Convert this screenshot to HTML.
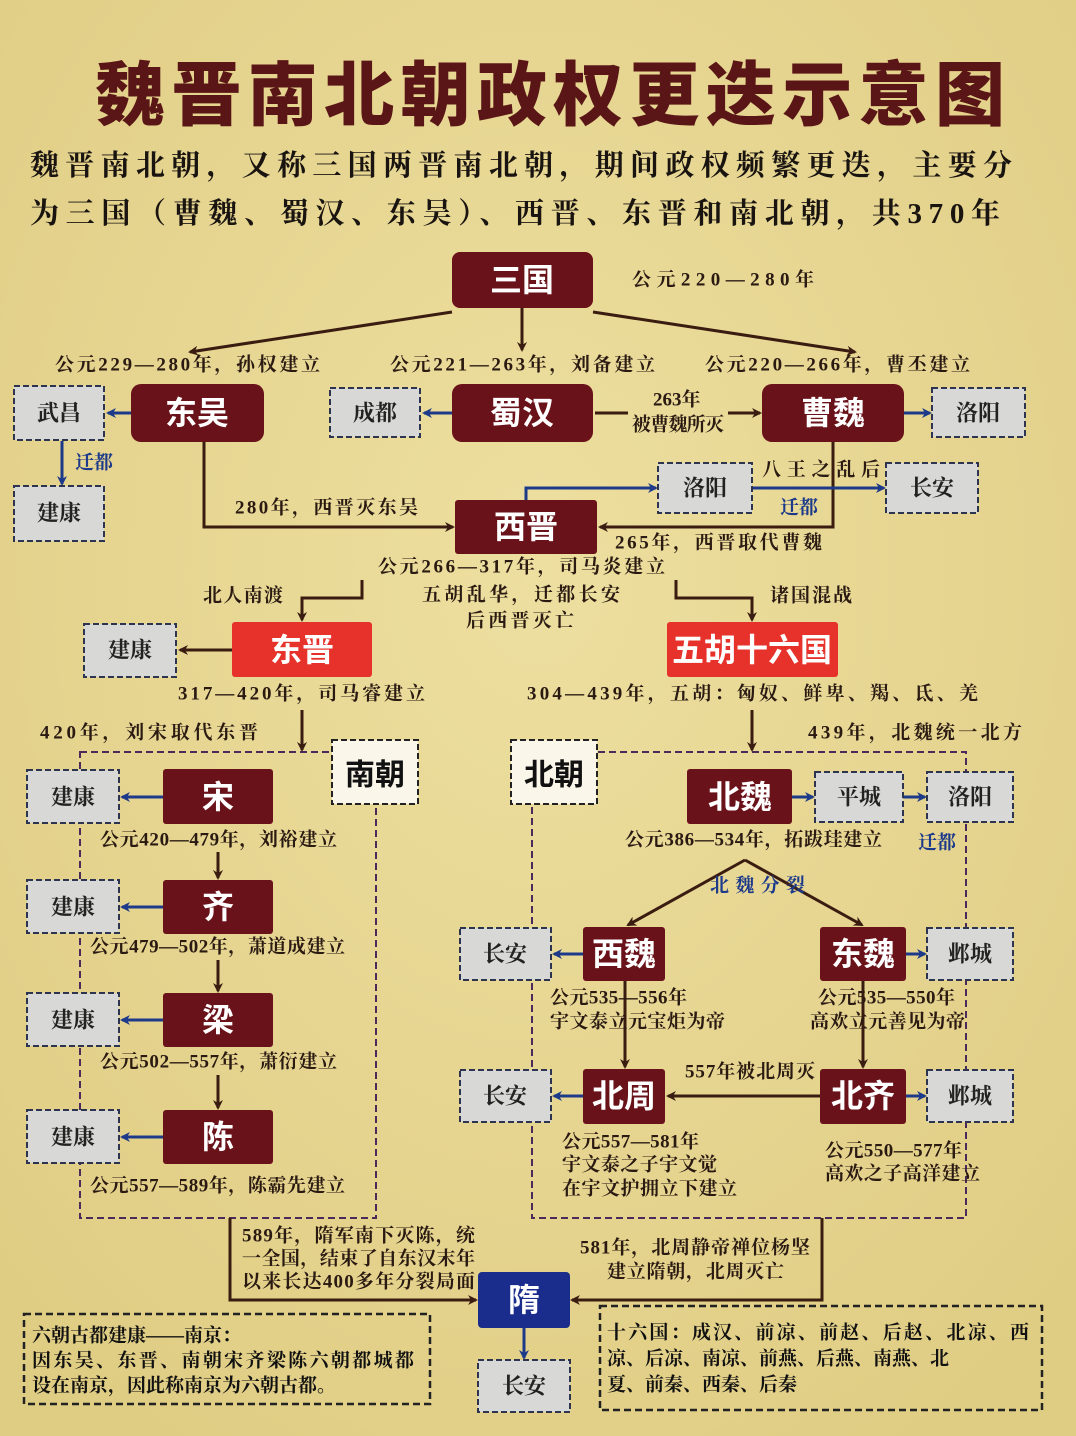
<!DOCTYPE html>
<html><head><meta charset="utf-8"><style>
html,body{margin:0;padding:0;background:#e7d690;}
svg{display:block}
text{font-family:"Liberation Serif","Noto Serif CJK SC",serif;font-weight:bold;}
.w{fill:#fff;font-family:"Liberation Sans","Noto Sans CJK SC",sans-serif;font-size:32px;text-anchor:middle;dominant-baseline:central}
.g{fill:#222;font-size:22px;text-anchor:middle;dominant-baseline:central}
.l{fill:#2a1a12;font-size:19px;dominant-baseline:central}
.b{fill:#1d3a8a;font-size:19px;dominant-baseline:central}
</style></head><body>
<svg width="1076" height="1436" viewBox="0 0 1076 1436">
<defs>
<radialGradient id="bg" cx="50%" cy="40%" r="70%"><stop offset="0" stop-color="#eddfa0"/><stop offset="1" stop-color="#e0cd84"/></radialGradient>
<marker id="ad" markerWidth="10" markerHeight="10" refX="8" refY="5" orient="auto" markerUnits="userSpaceOnUse"><path d="M0,0 L10,5 L0,10 L3,5z" fill="#3a1c10"/></marker>
<marker id="ab" markerWidth="10" markerHeight="10" refX="8" refY="5" orient="auto" markerUnits="userSpaceOnUse"><path d="M0,0 L10,5 L0,10 L3,5z" fill="#1d3a8a"/></marker>
</defs>
<rect width="1076" height="1436" fill="url(#bg)"/>
<text x="95" y="90" dominant-baseline="central" font-size="70" fill="#5a1616" textLength="910" style="font-family:'Noto Sans CJK SC',sans-serif;font-weight:900">魏晋南北朝政权更迭示意图</text>
<text x="30" y="166" font-size="29" fill="#1a1410" dominant-baseline="central" textLength="982">魏晋南北朝，又称三国两晋南北朝，期间政权频繁更迭，主要分</text>
<text x="30" y="214" font-size="29" fill="#1a1410" dominant-baseline="central" textLength="970">为三国（曹魏、蜀汉、东吴）、西晋、东晋和南北朝，共370年</text>

<rect x="80" y="752" width="296" height="466" fill="none" stroke="#4a2a5a" stroke-width="2" stroke-dasharray="7,4"/>
<rect x="532" y="752" width="434" height="466" fill="none" stroke="#4a2a5a" stroke-width="2" stroke-dasharray="7,4"/>

<g stroke="#3a1c10" stroke-width="3" fill="none">
<line x1="452" y1="312" x2="190" y2="352" marker-end="url(#ad)"/>
<line x1="593" y1="312" x2="855" y2="352" marker-end="url(#ad)"/>
<line x1="522" y1="308" x2="522" y2="350" marker-end="url(#ad)"/>
<polyline points="204,442 204,527 453,527" marker-end="url(#ad)"/>
<polyline points="833,442 833,527 600,527" marker-end="url(#ad)"/>
<line x1="595" y1="413" x2="628" y2="413"/>
<line x1="728" y1="413" x2="760" y2="413" marker-end="url(#ad)"/>
<polyline points="362,580 362,598 302,598 302,620" marker-end="url(#ad)"/>
<polyline points="676,580 676,598 752,598 752,620" marker-end="url(#ad)"/>
<line x1="232" y1="650" x2="180" y2="650" marker-end="url(#ad)"/>
<line x1="302" y1="710" x2="302" y2="750" marker-end="url(#ad)"/>
<line x1="752" y1="710" x2="752" y2="750" marker-end="url(#ad)"/>
<line x1="218" y1="852" x2="218" y2="878" marker-end="url(#ad)"/>
<line x1="218" y1="960" x2="218" y2="991" marker-end="url(#ad)"/>
<line x1="218" y1="1075" x2="218" y2="1108" marker-end="url(#ad)"/>
<polyline points="745,860 628,925" marker-end="url(#ad)"/>
<polyline points="745,860 862,925" marker-end="url(#ad)"/>
<line x1="625" y1="981" x2="625" y2="1067" marker-end="url(#ad)"/>
<line x1="863" y1="981" x2="863" y2="1067" marker-end="url(#ad)"/>
<line x1="820" y1="1096" x2="668" y2="1096" marker-end="url(#ad)"/>
<polyline points="230,1218 230,1300 476,1300" marker-end="url(#ad)"/>
<polyline points="822,1218 822,1300 572,1300" marker-end="url(#ad)"/>
</g>
<g stroke="#1d3a8a" stroke-width="3" fill="none">
<line x1="131" y1="413" x2="108" y2="413" marker-end="url(#ab)"/>
<line x1="62" y1="441" x2="62" y2="484" marker-end="url(#ab)"/>
<line x1="452" y1="413" x2="424" y2="413" marker-end="url(#ab)"/>
<line x1="904" y1="413" x2="930" y2="413" marker-end="url(#ab)"/>
<polyline points="526,500 526,488 656,488" marker-end="url(#ab)"/>
<line x1="752" y1="488" x2="884" y2="488" marker-end="url(#ab)"/>
<line x1="163" y1="797" x2="122" y2="797" marker-end="url(#ab)"/>
<line x1="163" y1="907" x2="122" y2="907" marker-end="url(#ab)"/>
<line x1="163" y1="1020" x2="122" y2="1020" marker-end="url(#ab)"/>
<line x1="163" y1="1137" x2="122" y2="1137" marker-end="url(#ab)"/>
<line x1="792" y1="797" x2="813" y2="797" marker-end="url(#ab)"/>
<line x1="903" y1="797" x2="925" y2="797" marker-end="url(#ab)"/>
<line x1="583" y1="954" x2="554" y2="954" marker-end="url(#ab)"/>
<line x1="906" y1="954" x2="925" y2="954" marker-end="url(#ab)"/>
<line x1="583" y1="1096" x2="554" y2="1096" marker-end="url(#ab)"/>
<line x1="906" y1="1096" x2="925" y2="1096" marker-end="url(#ab)"/>
<line x1="524" y1="1328" x2="524" y2="1358" marker-end="url(#ab)"/>
</g>

<g fill="#6a1219">
<rect x="452" y="252" width="141" height="56" rx="8"/>
<rect x="131" y="384" width="133" height="58" rx="10"/>
<rect x="452" y="384" width="141" height="58" rx="10"/>
<rect x="762" y="384" width="142" height="58" rx="10"/>
<rect x="455" y="500" width="142" height="54" rx="3"/>
<rect x="163" y="769" width="110" height="55" rx="3"/>
<rect x="163" y="880" width="110" height="54" rx="3"/>
<rect x="163" y="993" width="110" height="54" rx="3"/>
<rect x="163" y="1110" width="110" height="54" rx="3"/>
<rect x="687" y="769" width="105" height="55" rx="3"/>
<rect x="583" y="927" width="82" height="54" rx="3"/>
<rect x="820" y="927" width="86" height="54" rx="3"/>
<rect x="583" y="1069" width="82" height="55" rx="3"/>
<rect x="820" y="1069" width="86" height="55" rx="3"/>
</g>
<rect x="232" y="622" width="140" height="55" rx="3" fill="#e6322a"/>
<rect x="667" y="622" width="171" height="55" rx="3" fill="#e6322a"/>
<rect x="478" y="1272" width="92" height="56" rx="4" fill="#1a2c8c"/>

<text class="w" x="522" y="280">三国</text>
<text class="w" x="197" y="413">东吴</text>
<text class="w" x="522" y="413">蜀汉</text>
<text class="w" x="833" y="413">曹魏</text>
<text class="w" x="526" y="527">西晋</text>
<text class="w" x="302" y="650">东晋</text>
<text class="w" x="752" y="650">五胡十六国</text>
<text class="w" x="218" y="797">宋</text>
<text class="w" x="218" y="907">齐</text>
<text class="w" x="218" y="1020">梁</text>
<text class="w" x="218" y="1137">陈</text>
<text class="w" x="740" y="797">北魏</text>
<text class="w" x="624" y="954">西魏</text>
<text class="w" x="863" y="954">东魏</text>
<text class="w" x="624" y="1096">北周</text>
<text class="w" x="863" y="1096">北齐</text>
<text class="w" x="524" y="1300">隋</text>

<g fill="#d8d8d6" stroke="#2c3450" stroke-width="2" stroke-dasharray="6,3">
<rect x="14" y="386" width="90" height="54"/>
<rect x="14" y="486" width="90" height="55"/>
<rect x="330" y="388" width="90" height="49"/>
<rect x="932" y="388" width="93" height="49"/>
<rect x="658" y="463" width="94" height="50"/>
<rect x="886" y="463" width="92" height="50"/>
<rect x="84" y="624" width="92" height="53"/>
<rect x="27" y="770" width="92" height="53"/>
<rect x="27" y="880" width="92" height="53"/>
<rect x="27" y="993" width="92" height="53"/>
<rect x="27" y="1110" width="92" height="53"/>
<rect x="815" y="772" width="88" height="50"/>
<rect x="927" y="772" width="86" height="50"/>
<rect x="460" y="928" width="91" height="52"/>
<rect x="927" y="928" width="86" height="52"/>
<rect x="460" y="1070" width="91" height="52"/>
<rect x="927" y="1070" width="86" height="52"/>
<rect x="478" y="1360" width="92" height="52"/>
</g>
<g fill="#fbf6ea" stroke="#222" stroke-width="2" stroke-dasharray="6,3">
<rect x="332" y="740" width="86" height="64"/>
<rect x="511" y="740" width="86" height="64"/>
</g>
<text x="375" y="772" font-size="30" fill="#111" text-anchor="middle" dominant-baseline="central" style="font-family:'Noto Sans CJK SC',sans-serif">南朝</text>
<text x="554" y="772" font-size="30" fill="#111" text-anchor="middle" dominant-baseline="central" style="font-family:'Noto Sans CJK SC',sans-serif">北朝</text>

<text class="g" x="59" y="413">武昌</text>
<text class="g" x="59" y="513">建康</text>
<text class="g" x="375" y="413">成都</text>
<text class="g" x="978" y="413">洛阳</text>
<text class="g" x="705" y="488">洛阳</text>
<text class="g" x="932" y="488">长安</text>
<text class="g" x="130" y="650">建康</text>
<text class="g" x="73" y="797">建康</text>
<text class="g" x="73" y="907">建康</text>
<text class="g" x="73" y="1020">建康</text>
<text class="g" x="73" y="1137">建康</text>
<text class="g" x="859" y="797">平城</text>
<text class="g" x="970" y="797">洛阳</text>
<text class="g" x="505" y="954">长安</text>
<text class="g" x="970" y="954">邺城</text>
<text class="g" x="505" y="1096">长安</text>
<text class="g" x="970" y="1096">邺城</text>
<text class="g" x="524" y="1386">长安</text>

<text class="l" x="632" y="280" font-size="22" textLength="182">公元220—280年</text>
<text class="l" x="55" y="365" textLength="265">公元229—280年，孙权建立</text>
<text class="l" x="390" y="365" textLength="265">公元221—263年，刘备建立</text>
<text class="l" x="705" y="365" textLength="265">公元220—266年，曹丕建立</text>
<text class="l" x="653" y="400" font-size="15">263年</text>
<text class="l" x="632" y="425" font-size="14" textLength="92">被曹魏所灭</text>
<text class="b" x="75" y="463">迁都</text>
<text class="l" x="235" y="508" textLength="183">280年，西晋灭东吴</text>
<text class="l" x="762" y="470" fill="#1a1410" textLength="118">八王之乱后</text>
<text class="b" x="780" y="508">迁都</text>
<text class="l" x="615" y="543" textLength="207">265年，西晋取代曹魏</text>
<text class="l" x="378" y="567" textLength="287">公元266—317年，司马炎建立</text>
<text class="l" x="422" y="595" textLength="198">五胡乱华，迁都长安</text>
<text class="l" x="466" y="621" textLength="108">后西晋灭亡</text>
<text class="l" x="203" y="596" textLength="80">北人南渡</text>
<text class="l" x="770" y="596" textLength="82">诸国混战</text>
<text class="l" x="178" y="694" textLength="247">317—420年，司马睿建立</text>
<text class="l" x="527" y="694" textLength="451">304—439年，五胡：匈奴、鲜卑、羯、氐、羌</text>
<text class="l" x="40" y="733" textLength="218">420年，刘宋取代东晋</text>
<text class="l" x="808" y="733" textLength="214">439年，北魏统一北方</text>
<text class="l" x="100" y="840" font-size="17" textLength="237">公元420—479年，刘裕建立</text>
<text class="l" x="90" y="947" font-size="17" textLength="255">公元479—502年，萧道成建立</text>
<text class="l" x="100" y="1062" font-size="17" textLength="237">公元502—557年，萧衍建立</text>
<text class="l" x="90" y="1186" font-size="17" textLength="255">公元557—589年，陈霸先建立</text>
<text class="l" x="625" y="840" font-size="17" textLength="257">公元386—534年，拓跋珪建立</text>
<text class="b" x="918" y="843">迁都</text>
<text class="b" x="710" y="886" textLength="95">北魏分裂</text>
<text class="l" x="550" y="998" font-size="17" textLength="137">公元535—556年</text>
<text class="l" x="550" y="1022" font-size="17" textLength="175">宇文泰立元宝炬为帝</text>
<text class="l" x="818" y="998" font-size="17" textLength="137">公元535—550年</text>
<text class="l" x="810" y="1022" font-size="17" textLength="155">高欢立元善见为帝</text>
<text class="l" x="685" y="1072" font-size="19" textLength="130">557年被北周灭</text>
<text class="l" x="562" y="1142" font-size="17" textLength="137">公元557—581年</text>
<text class="l" x="562" y="1165" font-size="17" textLength="155">宇文泰之子宇文觉</text>
<text class="l" x="562" y="1189" font-size="17" textLength="175">在宇文护拥立下建立</text>
<text class="l" x="825" y="1151" font-size="17" textLength="137">公元550—577年</text>
<text class="l" x="825" y="1174" font-size="17" textLength="155">高欢之子高洋建立</text>
<text class="l" x="242" y="1236" font-size="17" textLength="233">589年，隋军南下灭陈，统</text>
<text class="l" x="242" y="1259" font-size="17" textLength="233">一全国，结束了自东汉末年</text>
<text class="l" x="242" y="1282" font-size="17" textLength="233">以来长达400多年分裂局面</text>
<text class="l" x="580" y="1248" font-size="17" textLength="230">581年，北周静帝禅位杨坚</text>
<text class="l" x="607" y="1272" font-size="17" textLength="177">建立隋朝，北周灭亡</text>

<rect x="24" y="1314" width="406" height="90" fill="none" stroke="#222" stroke-width="2.5" stroke-dasharray="7,4"/>
<rect x="600" y="1306" width="442" height="104" fill="none" stroke="#222" stroke-width="2.5" stroke-dasharray="7,4"/>
<g style="font-family:'Noto Sans CJK SC',sans-serif" font-size="19" fill="#111">
<text x="32" y="1336" dominant-baseline="central">六朝古都建康——南京：</text>
<text x="32" y="1361" dominant-baseline="central" textLength="382">因东吴、东晋、南朝宋齐梁陈六朝都城都</text>
<text x="32" y="1386" dominant-baseline="central">设在南京，因此称南京为六朝古都。</text>
<text x="607" y="1333" dominant-baseline="central" textLength="422">十六国：成汉、前凉、前赵、后赵、北凉、西</text>
<text x="607" y="1359" dominant-baseline="central">凉、后凉、南凉、前燕、后燕、南燕、北</text>
<text x="607" y="1385" dominant-baseline="central">夏、前秦、西秦、后秦</text>
</g>
</svg>
</body></html>
